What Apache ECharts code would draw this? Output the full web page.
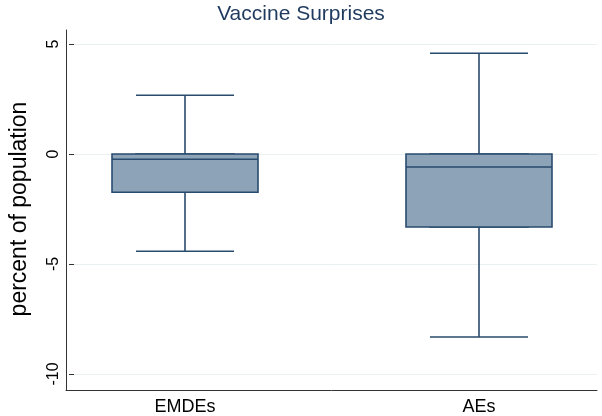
<!DOCTYPE html>
<html>
<head>
<meta charset="utf-8">
<script src="https://cdn.jsdelivr.net/npm/echarts@6/dist/echarts.min.js"></script>
<style>
  html, body { margin: 0; padding: 0; background: #fff; }
  #main { width: 602px; height: 416px; }
</style>
</head>
<body>
<div id="main"></div>
<script>
// data
var categories = ['EMDEs', 'AEs'];
var minVals    = [-4.42, -8.32];
var q1Vals     = [-1.74, -3.32];
var medianVals = [-0.24, -0.59];
var q3Vals     = [0.0, 0.0];
var maxVals    = [2.67, 4.58];
var yTickMin = -10, yTickMax = 5, yTickStep = 5;

var fillColor = '#8DA3B8';
var lineColor = '#284B6E';
var fontFam = 'Liberation Sans, Arial, sans-serif';

// whiskers use the full five numbers, the box series only Q1..Q3
var whiskerData = categories.map(function (c, i) {
  return [minVals[i], q1Vals[i], medianVals[i], q3Vals[i], maxVals[i]];
});
var boxData = categories.map(function (c, i) {
  return [q1Vals[i], q1Vals[i], medianVals[i], q3Vals[i], q3Vals[i]];
});

var chart = echarts.init(document.getElementById('main'));

var hiddenAxis = {
  axisLine: { show: false }, axisTick: { show: false },
  axisLabel: { show: false }, splitLine: { show: false }
};

var option = {
  animation: false,
  title: {
    text: 'Vaccine Surprises',
    left: 'center',
    top: -1,
    textStyle: { color: '#1F3A5F', fontSize: 21, fontWeight: 'normal', fontFamily: fontFam }
  },
  grid: [
    // frame (axis lines)
    { left: 66, top: 30, width: 531, height: 360 },
    // tick scale
    { left: 66, top: 44, width: 531, height: 330 },
    // boxplots: categories sit on the grid edges
    { left: 185, top: 44, width: 294, height: 330 },
    { left: 185, top: 44, width: 294, height: 330 }
  ],
  xAxis: [
    { gridIndex: 0, type: 'value', min: 0, max: 1,
      axisLine: { show: true, lineStyle: { color: '#333', width: 1 } },
      axisTick: { show: false }, axisLabel: { show: false }, splitLine: { show: false } },
    Object.assign({ gridIndex: 1, type: 'value', min: 0, max: 1 }, hiddenAxis),
    { gridIndex: 2, type: 'category', data: categories, boundaryGap: false,
      axisLine: { show: false }, axisTick: { show: false }, splitLine: { show: false },
      axisLabel: { margin: 24, color: '#000', fontSize: 18, fontFamily: fontFam } },
    Object.assign({ gridIndex: 3, type: 'category', data: categories, boundaryGap: false }, hiddenAxis)
  ],
  yAxis: [
    { gridIndex: 0, type: 'value', min: 0, max: 1,
      axisLine: { show: true, lineStyle: { color: '#333', width: 1 } },
      axisTick: { show: false }, axisLabel: { show: false }, splitLine: { show: false } },
    { gridIndex: 1, type: 'value', min: yTickMin, max: yTickMax, interval: yTickStep,
      name: 'percent of population',
      nameLocation: 'middle',
      nameGap: 43,
      nameTextStyle: { color: '#000', fontSize: 23, fontFamily: fontFam },
      axisLine: { show: false },
      axisTick: { show: true, length: 5, lineStyle: { color: '#333' } },
      axisLabel: { rotate: 90, margin: 12, color: '#000', fontSize: 16, fontFamily: fontFam },
      splitLine: { show: true, lineStyle: { color: '#EAF0F2', width: 1 } } },
    Object.assign({ gridIndex: 2, type: 'value', min: yTickMin, max: yTickMax }, hiddenAxis),
    Object.assign({ gridIndex: 3, type: 'value', min: yTickMin, max: yTickMax }, hiddenAxis)
  ],
  series: [
    {
      name: 'whiskers',
      type: 'boxplot',
      xAxisIndex: 2, yAxisIndex: 2,
      boxWidth: [98, 98],
      itemStyle: { color: fillColor, borderColor: lineColor, borderWidth: 1.6 },
      data: whiskerData,
      z: 2
    },
    {
      name: 'box',
      type: 'boxplot',
      xAxisIndex: 3, yAxisIndex: 3,
      boxWidth: [146, 146],
      itemStyle: { color: fillColor, borderColor: lineColor, borderWidth: 1.6 },
      data: boxData,
      z: 3
    }
  ]
};

chart.setOption(option);
</script>
</body>
</html>
